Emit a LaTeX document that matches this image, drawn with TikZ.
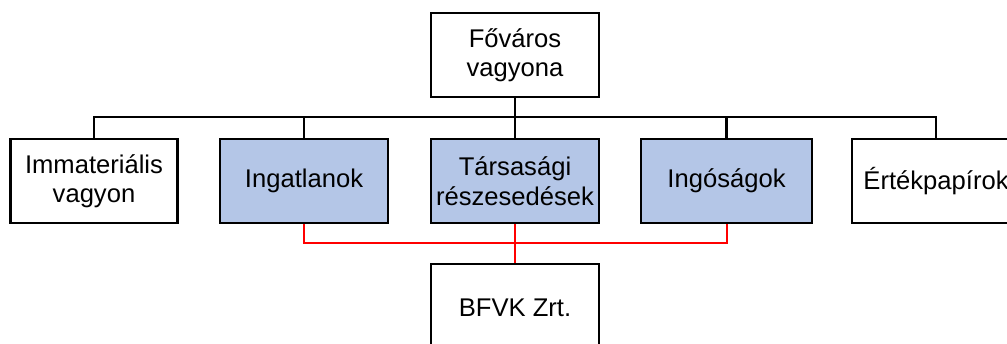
\documentclass[tikz,border=0pt]{standalone}
\usepackage{fontspec}
\setmainfont{Liberation Sans}
\definecolor{boxblue}{RGB}{180,198,231}
\definecolor{linered}{RGB}{255,0,0}
\begin{document}
\begin{tikzpicture}[x=1pt,y=-1pt,
  orgbox/.style={draw=black, line width=2.6pt, fill=white, minimum width=168pt, minimum height=84pt,
    inner sep=0pt, align=center, font=\fontsize{25.6}{29.5}\selectfont},
  bluebox/.style={orgbox, fill=boxblue},
  blackline/.style={draw=black, line width=2.6pt},
  redline/.style={draw=linered, line width=2pt}]
\useasboundingbox (0,0) rectangle (1007,344);
\clip (0,0) rectangle (1007,344);
\fill[white] (0,0) rectangle (1007,344);
\coordinate (bus) at (515,117);
\coordinate (redbus) at (515,243);
\node[orgbox] (top) at (515,55) {Főváros\\vagyona};
\node[orgbox, minimum width=167pt] (imm) at (94,181) {Immateriális\\vagyon};
\node[bluebox] (ing) at (304,181) {Ingatlanok};
\node[bluebox] (tars) at (515,181) {Társasági\\részesedések};
\node[bluebox, minimum width=171pt] (ingo) at (726.5,181) {Ingóságok};
\node[orgbox] (ert) at (936,181) {Értékpapírok};
\node[orgbox, minimum height=88pt] (bfvk) at (515,308) {BFVK Zrt.};
% black tree
\draw[blackline] (imm.north) |- (bus) -| (ert.north);
\draw[blackline] (top.south) -- (bus);
\draw[blackline] (ing.north) -- (ing.north |- bus);
\draw[blackline] (tars.north) -- (tars.north |- bus);
\draw[blackline] (ingo.north) -- (ingo.north |- bus);
% red connectors
\draw[redline] (ing.south) |- (redbus) -| (ingo.south);
\draw[redline] (tars.south) -- (bfvk.north);
\end{tikzpicture}
\end{document}
